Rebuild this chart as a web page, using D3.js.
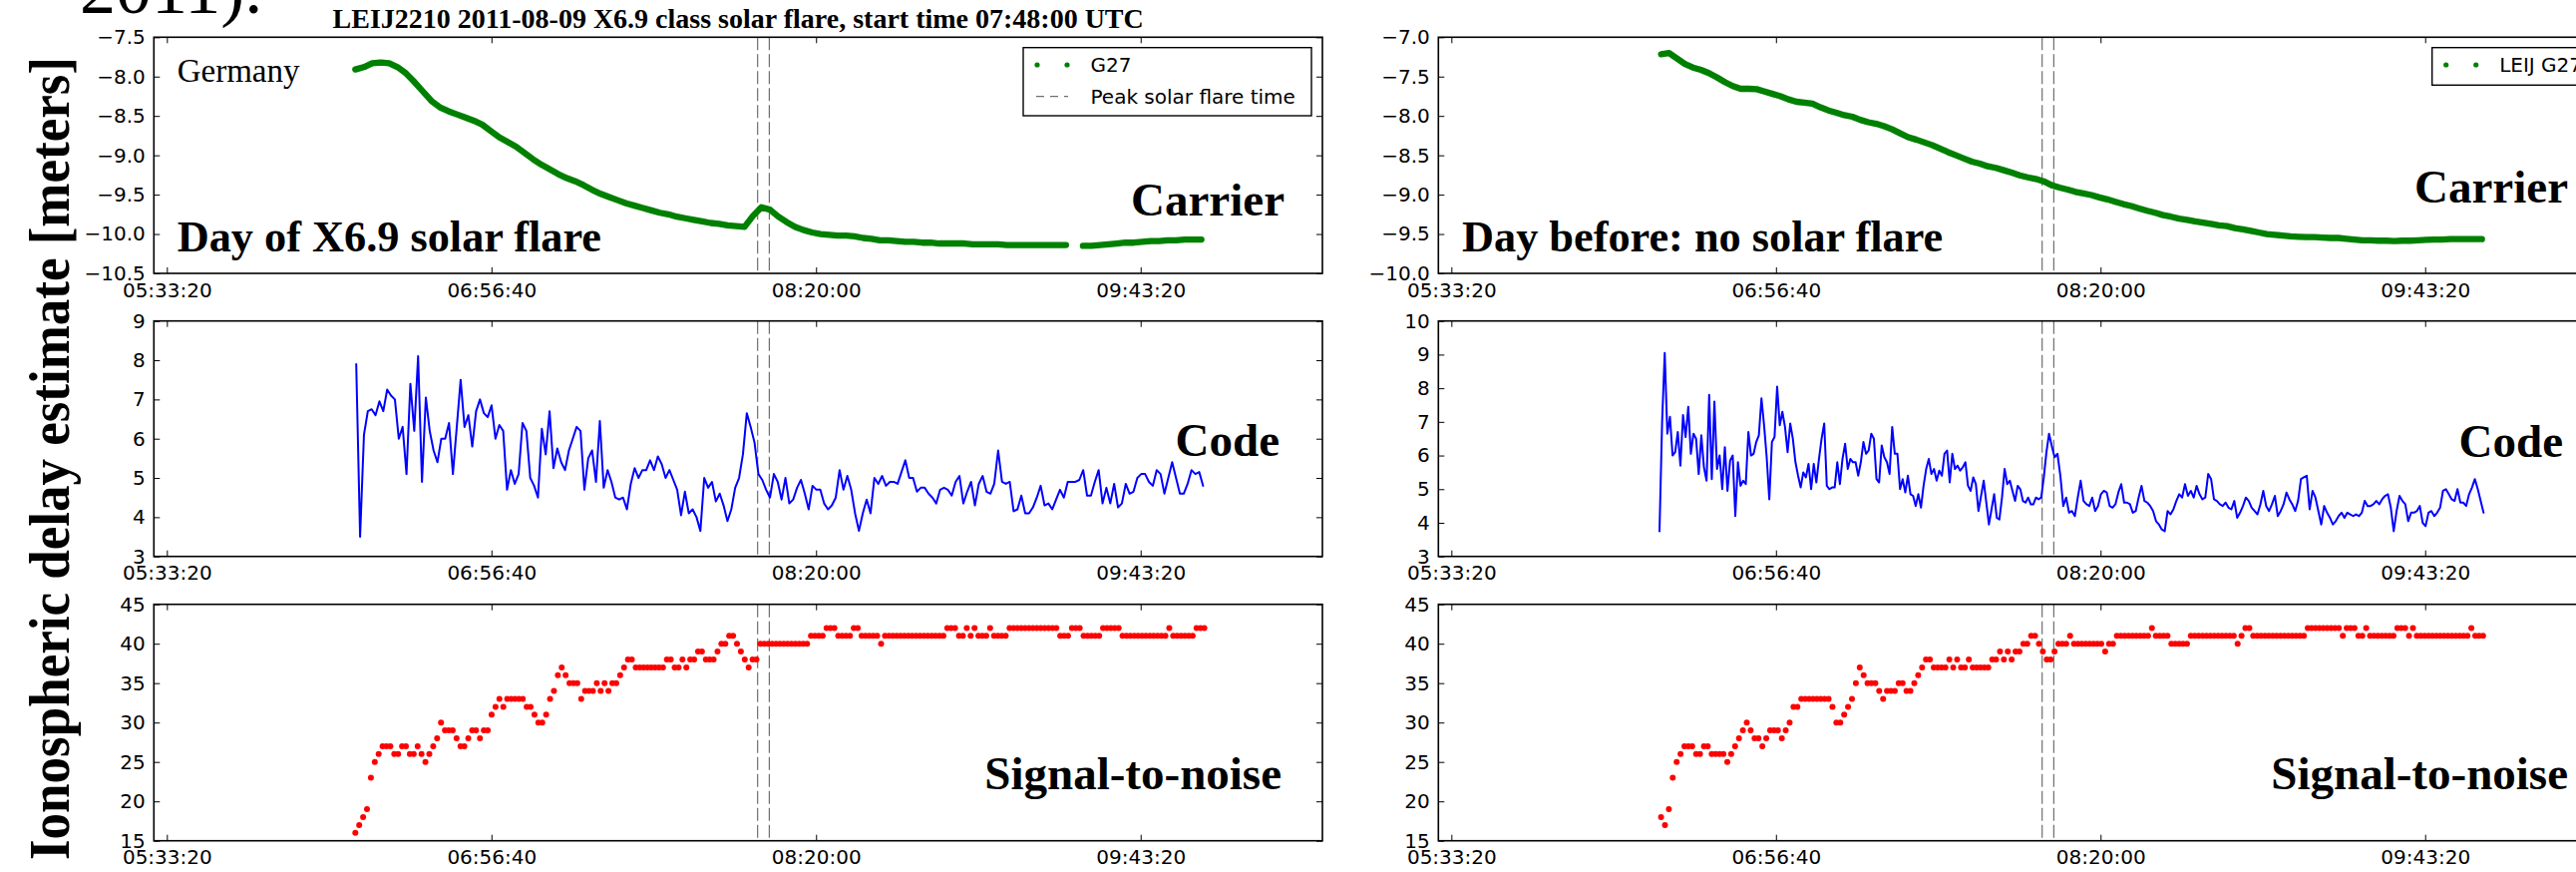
<!DOCTYPE html>
<html>
<head>
<meta charset="utf-8">
<script src="https://cdn.jsdelivr.net/npm/d3@7"></script>
<style>
  body { margin: 0; background: #fff; }
  svg { display: block; }
</style>
</head>
<body>
<svg id="chart" width="2583" height="874"></svg>
<script>
// ===================== DATA =====================

const xDomain = ['05:30:00', '10:30:00'];
const xTicks = ['05:33:20', '06:56:40', '08:20:00', '09:43:20'];
const flareTimes = ['08:05:00', '08:08:00'];

// carrier phase estimate [m], day of the flare (2011-08-09)
const carrierDay = [
  -7.91, -7.88, -7.83, -7.82, -7.83, -7.88, -7.96, -8.07, -8.19, -8.31,
  -8.39, -8.44, -8.48, -8.52, -8.56, -8.61, -8.69, -8.77, -8.83, -8.89,
  -8.97, -9.05, -9.12, -9.18, -9.24, -9.29, -9.33, -9.38, -9.44, -9.49,
  -9.53, -9.57, -9.61, -9.64, -9.67, -9.70, -9.73, -9.75, -9.78, -9.80,
  -9.82, -9.84, -9.86, -9.87, -9.89, -9.90, -9.91, -9.77, -9.66, -9.69,
  -9.78, -9.85, -9.91, -9.95, -9.98, -10.00, -10.01, -10.02, -10.02, -10.03,
  -10.05, -10.06, -10.08, -10.08, -10.09, -10.10, -10.10, -10.11, -10.11, -10.12,
  -10.12, -10.12, -10.12, -10.13, -10.13, -10.13, -10.13, -10.14, -10.14, -10.14,
  -10.14, -10.14, -10.14, -10.14, -10.14, null, -10.15, -10.15, -10.14, -10.13,
  -10.12, -10.11, -10.11, -10.10, -10.09, -10.09, -10.08, -10.08, -10.07, -10.07,
  -10.07
];
const carrierDaySpan = [[0, '06:21:43'], [100, '09:58:56']];

// carrier phase estimate [m], day before
const carrierBefore = [
  -7.215, -7.20, -7.27, -7.34, -7.385, -7.415, -7.455, -7.51, -7.57, -7.62,
  -7.655, -7.655, -7.66, -7.69, -7.72, -7.75, -7.79, -7.82, -7.83, -7.845,
  -7.89, -7.93, -7.96, -7.99, -8.01, -8.05, -8.08, -8.10, -8.13, -8.17,
  -8.22, -8.27, -8.30, -8.335, -8.37, -8.415, -8.46, -8.50, -8.54, -8.58,
  -8.605, -8.64, -8.66, -8.69, -8.72, -8.755, -8.78, -8.80, -8.83, -8.88,
  -8.91, -8.935, -8.965, -8.985, -9.005, -9.035, -9.06, -9.09, -9.12, -9.145,
  -9.175, -9.205, -9.23, -9.26, -9.28, -9.305, -9.32, -9.34, -9.355, -9.37,
  -9.39, -9.40, -9.425, -9.44, -9.46, -9.48, -9.50, -9.51, -9.52, -9.53,
  -9.535, -9.54, -9.54, -9.545, -9.55, -9.55, -9.56, -9.57, -9.58, -9.58,
  -9.585, -9.585, -9.59, -9.585, -9.585, -9.58, -9.575, -9.57, -9.57, -9.565,
  -9.565, -9.565, -9.565, -9.565
];
const carrierBeforeSpan = [[0, '06:27:10'], [103, '09:57:55']];

// code estimate [m], day of the flare
const codeDay = [
  7.9, 3.5, 6.1, 6.7, 6.75, 6.6, 6.95, 6.7, 7.25, 7.1,
  7.0, 6.0, 6.3, 5.1, 7.4, 6.2, 8.1, 4.9, 7.05, 6.2,
  5.7, 5.4, 6.0, 6.0, 6.4, 5.1, 6.3, 7.5, 6.3, 6.6,
  5.8, 6.7, 7.0, 6.65, 6.55, 6.85, 6.0, 6.35, 6.2, 4.7,
  5.2, 4.85, 5.1, 6.4, 6.2, 5.0, 4.8, 4.5, 6.25, 5.6,
  6.7, 5.25, 5.75, 5.4, 5.2, 5.7, 6.0, 6.3, 6.2, 4.7,
  5.5, 5.7, 4.9, 6.45, 4.75, 5.2, 4.9, 4.5, 4.45, 4.5,
  4.2, 4.85, 5.25, 5.0, 5.2, 5.2, 5.45, 5.2, 5.55, 5.35,
  5.0, 5.2, 4.95, 4.7, 4.05, 4.65, 4.1, 4.2, 4.0, 3.65,
  5.0, 4.75, 4.9, 4.4, 4.6, 4.3, 3.9, 4.2, 4.75, 5.0,
  5.6, 6.65, 6.3, 5.9, 5.1, 4.95, 4.7, 4.5, 5.1, 4.9,
  4.45, 5.0, 4.35, 4.45, 4.75, 4.95, 4.6, 4.2, 4.8, 4.7,
  4.7, 4.35, 4.2, 4.3, 4.5, 5.2, 4.7, 5.05, 4.7, 4.1,
  3.65, 4.1, 4.45, 4.1, 5.0, 4.85, 5.05, 4.8, 4.9, 4.9,
  4.85, 5.15, 5.45, 5.0, 5.0, 4.65, 4.75, 4.75, 4.6, 4.5,
  4.35, 4.7, 4.75, 4.7, 4.55, 4.9, 5.05, 4.35, 4.65, 4.9,
  4.3, 4.85, 5.05, 4.65, 4.6, 4.85, 5.7, 4.9, 4.85, 4.9,
  4.15, 4.2, 4.55, 4.1, 4.1, 4.25, 4.5, 4.8, 4.3, 4.35,
  4.2, 4.45, 4.7, 4.5, 4.9, 4.9, 4.9, 4.95, 5.2, 4.55,
  4.55, 4.9, 5.2, 4.35, 4.75, 4.35, 4.85, 4.25, 4.35, 4.85,
  4.6, 4.65, 5.0, 5.1, 5.1, 4.9, 4.8, 5.2, 5.1, 4.6,
  5.0, 5.4, 5.0, 4.6, 4.6, 4.85, 5.2, 5.1, 5.15, 4.8
];
const codeDaySpan = [[0, '06:21:57'], [219, '09:59:22']];

// code estimate [m], day before
const codeBefore = [
  3.75, 7.0, 9.05, 6.65, 7.15, 6.0, 6.1, 6.7, 5.7, 7.2,
  6.55, 7.45, 6.05, 6.65, 6.5, 5.45, 6.6, 5.65, 5.25, 7.8,
  5.3, 7.6, 5.6, 6.0, 5.0, 6.25, 4.95, 5.85, 6.0, 4.2,
  5.8, 5.1, 5.25, 5.15, 6.7, 6.0, 6.05, 6.4, 6.6, 7.7,
  6.9, 5.95, 4.7, 6.4, 6.55, 8.05, 6.9, 7.3, 6.85, 6.1,
  6.95, 6.5, 5.8, 5.4, 5.05, 5.5, 5.35, 5.75, 5.0, 5.75,
  5.2, 5.9, 6.5, 6.95, 5.1, 5.0, 5.05, 5.05, 5.8, 5.15,
  5.9, 6.35, 5.6, 5.9, 5.8, 5.8, 5.4, 5.8, 6.4, 6.05,
  6.15, 6.65, 6.5, 5.3, 5.2, 6.3, 5.95, 5.8, 5.45, 6.85,
  6.05, 6.05, 5.0, 5.3, 4.9, 5.4, 4.85, 4.8, 4.5, 4.85,
  4.45, 5.1, 5.6, 5.9, 5.45, 5.6, 5.25, 5.55, 5.4, 6.05,
  6.15, 5.2, 6.05, 5.6, 5.7, 5.55, 5.65, 5.8, 5.1, 4.95,
  5.35, 5.15, 4.35, 4.8, 5.25, 4.6, 3.95, 4.4, 4.85, 4.15,
  4.1, 4.75, 5.6, 5.15, 5.25, 4.95, 4.65, 5.1, 5.0, 4.65,
  4.6, 4.75, 4.55, 4.55, 4.75, 4.7, 4.75, 5.35, 6.1, 6.65,
  6.3, 5.95, 6.05, 5.4, 4.5, 4.75, 4.3, 4.35, 4.2, 4.75,
  5.25, 4.65, 4.55, 4.5, 4.75, 4.35, 4.5, 4.85, 4.95, 4.9,
  4.5, 4.45, 4.55, 4.9, 5.15, 4.6, 4.6, 4.55, 4.3, 4.35,
  4.75, 5.1, 4.65, 4.6, 4.5, 4.35, 4.05, 3.95, 3.8, 3.75,
  4.35, 4.25, 4.4, 4.65, 4.85, 4.75, 5.15, 4.8, 4.95, 4.75,
  5.1, 4.85, 4.7, 4.75, 5.45, 5.3, 4.7, 4.65, 4.55, 4.5,
  4.6, 4.45, 4.4, 4.65, 4.15, 4.3, 4.5, 4.75, 4.65, 4.45,
  4.35, 4.25, 4.55, 4.95, 4.5, 4.35, 4.55, 4.8, 4.2, 4.35,
  4.55, 4.9, 4.7, 4.55, 4.35, 4.65, 5.3, 5.35, 5.4, 4.4,
  4.95, 4.75, 4.35, 3.95, 4.5, 4.3, 4.15, 3.95, 4.05, 4.2,
  4.3, 4.15, 4.3, 4.25, 4.2, 4.25, 4.2, 4.3, 4.65, 4.5,
  4.5, 4.55, 4.65, 4.55, 4.7, 4.8, 4.85, 4.45, 3.75, 4.35,
  4.8, 4.65, 4.55, 4.05, 4.3, 4.3, 4.35, 4.5, 4.0, 3.9,
  4.3, 4.35, 4.2, 4.3, 4.45, 4.95, 5.0, 4.85, 4.7, 4.65,
  5.0, 4.6, 4.6, 4.5, 4.85, 5.05, 5.3, 5.0, 4.65, 4.3
];
const codeBeforeSpan = [[0, '06:26:46'], [150, '08:07:27'], [299, '09:58:20']];

// signal-to-noise, day of the flare
const snrDay = [
  16, 17, 18, 19, 23, 25, 26, 27, 27, 27,
  26, 26, 27, 27, 26, 26, 27, 26, 25, 26,
  27, 28, 30, 29, 29, 29, 28, 27, 27, 28,
  29, 29, 28, 29, 29, 31, 32, 33, 32, 33,
  33, 33, 33, 33, 32, 32, 31, 30, 30, 31,
  33, 34, 36, 37, 36, 35, 35, 35, 33, 34,
  34, 34, 35, 34, 35, 34, 35, 35, 36, 37,
  38, 38, 37, 37, 37, 37, 37, 37, 37, 37,
  38, 38, 37, 37, 38, 37, 38, 38, 39, 39,
  38, 38, 38, 39, 40, 40, 41, 41, 40, 39,
  38, 37, 38, 38, 40, 40, 40, 40, 40, 40,
  40, 40, 40, 40, 40, 40, 40, 41, 41, 41,
  41, 42, 42, 42, 41, 41, 41, 41, 42, 42,
  41, 41, 41, 41, 41, 40, 41, 41, 41, 41,
  41, 41, 41, 41, 41, 41, 41, 41, 41, 41,
  41, 41, 42, 42, 42, 41, 41, 42, 41, 42,
  41, 41, 41, 42, 41, 41, 41, 41, 42, 42,
  42, 42, 42, 42, 42, 42, 42, 42, 42, 42,
  42, 41, 41, 41, 42, 42, 42, 41, 41, 41,
  41, 41, 42, 42, 42, 42, 42, 41, 41, 41,
  41, 41, 41, 41, 41, 41, 41, 41, 41, 42,
  41, 41, 41, 41, 41, 41, 42, 42, 42
];
const snrDaySpan = [[0, '06:21:43'], [218, '09:59:41']];

// signal-to-noise, day before
const snrBefore = [
  18, 17, 19, 23, 25, 26, 27, 27, 27, 26,
  26, 27, 27, 26, 26, 26, 26, 25, 26, 27,
  28, 29, 30, 29, 28, 28, 27, 28, 29, 29,
  29, 28, 29, 30, 32, 32, 33, 33, 33, 33,
  33, 33, 33, 33, 32, 30, 30, 31, 32, 33,
  35, 37, 36, 35, 35, 35, 34, 33, 34, 34,
  34, 35, 35, 34, 34, 35, 36, 37, 38, 38,
  37, 37, 37, 37, 38, 37, 38, 37, 37, 38,
  37, 37, 37, 37, 37, 38, 38, 39, 38, 39,
  38, 39, 39, 40, 40, 41, 41, 40, 39, 38,
  38, 39, 40, 40, 40, 41, 40, 40, 40, 40,
  40, 40, 40, 40, 39, 40, 40, 41, 41, 41,
  41, 41, 41, 41, 41, 41, 42, 41, 41, 41,
  41, 40, 40, 40, 40, 40, 41, 41, 41, 41,
  41, 41, 41, 41, 41, 41, 41, 41, 40, 41,
  42, 42, 41, 41, 41, 41, 41, 41, 41, 41,
  41, 41, 41, 41, 41, 41, 42, 42, 42, 42,
  42, 42, 42, 42, 42, 41, 42, 42, 42, 41,
  41, 42, 41, 41, 41, 41, 41, 41, 41, 42,
  42, 42, 41, 42, 41, 41, 41, 41, 41, 41,
  41, 41, 41, 41, 41, 41, 41, 41, 42, 41,
  41, 41
];
const snrBeforeSpan = [[0, '06:27:10'], [211, '09:58:12']];

// ===================== HELPERS =====================

const SANS = 'DejaVu Sans, Verdana, sans-serif';
const SERIF = 'Liberation Serif, Times New Roman, serif';

const parseClock = s => {
  const [h, m, sec] = s.split(':').map(Number);
  return h * 3600 + m * 60 + sec;
};
const fmtClock = t => [Math.floor(t / 3600), Math.floor((t % 3600) / 60), t % 60]
  .map(v => String(v).padStart(2, '0')).join(':');

// evenly spaced sample times between anchor samples
function sampleTimes(n, anchors) {
  const a = anchors.map(([i, s]) => [i, parseClock(s)]);
  return d3.range(n).map(i => {
    let k = 0;
    while (k < a.length - 2 && i > a[k + 1][0]) k++;
    const [i0, t0] = a[k], [i1, t1] = a[k + 1];
    return t0 + (t1 - t0) * (i - i0) / (i1 - i0);
  });
}

const toPoints = (values, span) => {
  const times = sampleTimes(values.length, span);
  return values.map((v, i) => ({ t: times[i], v }));
};

// ===================== LAYOUT =====================

const svg = d3.select('#chart');
const columns = [{ x0: 154.3, x1: 1326 }, { x0: 1442.3, x1: 2614 }];
const rows = [{ y0: 37.3, y1: 274 }, { y0: 321.7, y1: 557.7 }, { y0: 605.7, y1: 842.7 }];

function drawPanel(col, row, opt) {
  const x = d3.scaleLinear().domain(xDomain.map(parseClock)).range([col.x0, col.x1]);
  const y = d3.scaleLinear().domain(opt.yDomain).range([row.y1, row.y0]);
  const g = svg.append('g');
  const tickVals = xTicks.map(parseClock);

  // flare time markers
  g.selectAll('line.flare').data(flareTimes.map(parseClock)).join('line')
    .attr('class', 'flare')
    .attr('x1', d => x(d)).attr('x2', d => x(d))
    .attr('y1', row.y0).attr('y2', row.y1)
    .attr('stroke', '#6f6f6f').attr('stroke-width', 1.2)
    .attr('stroke-dasharray', '13,4');

  // series
  const pts = toPoints(opt.values, opt.span);
  if (opt.kind === 'dots') {
    g.append('g').selectAll('circle').data(pts).join('circle')
      .attr('cx', d => x(d.t)).attr('cy', d => y(d.v))
      .attr('r', 3).attr('fill', opt.color);
  } else {
    const line = d3.line().defined(d => d.v !== null).x(d => x(d.t)).y(d => y(d.v));
    g.append('path').datum(pts)
      .attr('d', line)
      .attr('fill', 'none')
      .attr('stroke', opt.color)
      .attr('stroke-width', opt.width)
      .attr('stroke-linecap', 'round')
      .attr('stroke-linejoin', 'round');
  }

  // axes, ticks pointing inward on every side
  const styleAxis = a => {
    a.select('.domain').remove();
    a.selectAll('.tick line').attr('stroke', '#000').attr('stroke-width', 1);
    a.selectAll('.tick text').attr('fill', '#000')
      .style('font-family', SANS).style('font-size', '20px');
  };
  g.append('g').attr('transform', `translate(0,${row.y1})`)
    .call(d3.axisBottom(x).tickValues(tickVals).tickFormat(fmtClock)
      .tickSizeInner(-6).tickSizeOuter(0).tickPadding(9.4))
    .call(styleAxis);
  g.append('g').attr('transform', `translate(0,${row.y0})`)
    .call(d3.axisTop(x).tickValues(tickVals).tickFormat('')
      .tickSizeInner(-6).tickSizeOuter(0))
    .call(styleAxis);
  g.append('g').attr('transform', `translate(${col.x0},0)`)
    .call(d3.axisLeft(y).tickValues(opt.yTicks).tickFormat(d3.format(opt.yFormat))
      .tickSizeInner(-6).tickSizeOuter(0).tickPadding(8.5))
    .call(styleAxis);
  g.append('g').attr('transform', `translate(${col.x1},0)`)
    .call(d3.axisRight(y).tickValues(opt.yTicks).tickFormat('')
      .tickSizeInner(-6).tickSizeOuter(0))
    .call(styleAxis);

  g.append('rect')
    .attr('x', col.x0).attr('y', row.y0)
    .attr('width', col.x1 - col.x0).attr('height', row.y1 - row.y0)
    .attr('fill', 'none').attr('stroke', '#000').attr('stroke-width', 1.6);

  // panel label on the right
  g.append('text')
    .attr('x', col.x1 - opt.labelInset).attr('y', row.y0 + opt.labelBase)
    .attr('text-anchor', 'end')
    .style('font-family', SERIF).style('font-weight', 'bold').style('font-size', '47px')
    .text(opt.label);
  return g;
}

function drawLegend(left, top, w, h, entries) {
  const g = svg.append('g');
  g.append('rect').attr('x', left).attr('y', top).attr('width', w).attr('height', h)
    .attr('fill', '#fff').attr('stroke', '#000').attr('stroke-width', 1.4);
  entries.forEach((e, i) => {
    const cy = top + 17.3 + i * 31.7;
    if (e.kind === 'dots') {
      g.selectAll(null).data([14, 44]).join('circle')
        .attr('cx', d => left + d).attr('cy', cy).attr('r', 2.6).attr('fill', e.color);
    } else {
      g.append('line').attr('x1', left + 13).attr('x2', left + 45)
        .attr('y1', cy).attr('y2', cy)
        .attr('stroke', e.color).attr('stroke-width', 1.2).attr('stroke-dasharray', '8,6');
    }
    g.append('text').attr('x', left + 67.5).attr('y', cy + 7)
      .style('font-family', SANS).style('font-size', '20px').text(e.label);
  });
}

// ===================== PANELS =====================

const panels = [
  { c: 0, r: 0, values: carrierDay, span: carrierDaySpan, kind: 'line', width: 6.3, color: '#008000',
    yDomain: [-10.5, -7.5], yTicks: d3.range(-10.5, -7.49, 0.5), yFormat: '.1f',
    label: 'Carrier', labelInset: 38, labelBase: 179 },
  { c: 1, r: 0, values: carrierBefore, span: carrierBeforeSpan, kind: 'line', width: 6.3, color: '#008000',
    yDomain: [-10, -7], yTicks: d3.range(-10, -6.99, 0.5), yFormat: '.1f',
    label: 'Carrier', labelInset: 39, labelBase: 165.5 },
  { c: 0, r: 1, values: codeDay, span: codeDaySpan, kind: 'line', width: 2, color: '#0000ff',
    yDomain: [3, 9], yTicks: d3.range(3, 9.01, 1), yFormat: 'd',
    label: 'Code', labelInset: 43, labelBase: 135 },
  { c: 1, r: 1, values: codeBefore, span: codeBeforeSpan, kind: 'line', width: 2, color: '#0000ff',
    yDomain: [3, 10], yTicks: d3.range(3, 10.01, 1), yFormat: 'd',
    label: 'Code', labelInset: 44, labelBase: 136.6 },
  { c: 0, r: 2, values: snrDay, span: snrDaySpan, kind: 'dots', color: '#ff0000',
    yDomain: [15, 45], yTicks: d3.range(15, 45.01, 5), yFormat: 'd',
    label: 'Signal-to-noise', labelInset: 41, labelBase: 185 },
  { c: 1, r: 2, values: snrBefore, span: snrBeforeSpan, kind: 'dots', color: '#ff0000',
    yDomain: [15, 45], yTicks: d3.range(15, 45.01, 5), yFormat: 'd',
    label: 'Signal-to-noise', labelInset: 39, labelBase: 185 }
];

panels.forEach(p => drawPanel(columns[p.c], rows[p.r], p));

drawLegend(columns[0].x1 - 300, rows[0].y0 + 10.4, 289, 68.3, [
  { kind: 'dots', color: '#008000', label: 'G27' },
  { kind: 'dash', color: '#6f6f6f', label: 'Peak solar flare time' }
]);
drawLegend(columns[1].x1 - 175.3, rows[0].y0 + 10.4, 164.3, 37.6, [
  { kind: 'dots', color: '#008000', label: 'LEIJ G27' }
]);

// ===================== TEXT =====================

const serifText = (x, y, size, bold, txt) => svg.append('text')
  .attr('x', x).attr('y', y)
  .style('font-family', SERIF).style('font-size', size + 'px')
  .style('font-weight', bold ? 'bold' : 'normal')
  .text(txt);

serifText(columns[0].x0 + (columns[0].x1 - columns[0].x0) / 2, 28, 28, true,
  'LEIJ2210 2011-08-09 X6.9 class solar flare, start time 07:48:00 UTC').attr('text-anchor', 'middle');
serifText(177.7, 81.7, 33, false, 'Germany');
serifText(177.7, 251.7, 44.3, true, 'Day of X6.9 solar flare');
serifText(1466, 251.7, 44.3, true, 'Day before: no solar flare');

// fragment of the surrounding page text, cut by the top edge
serifText(80, 13, 72, false, '2011).');

svg.append('text')
  .attr('transform', 'translate(68.5,862) rotate(-90)')
  .attr('textLength', 805).attr('lengthAdjust', 'spacingAndGlyphs')
  .style('font-family', SERIF).style('font-weight', 'bold').style('font-size', '56px')
  .text('Ionospheric delay estimate [meters]');
</script>
</body>
</html>
